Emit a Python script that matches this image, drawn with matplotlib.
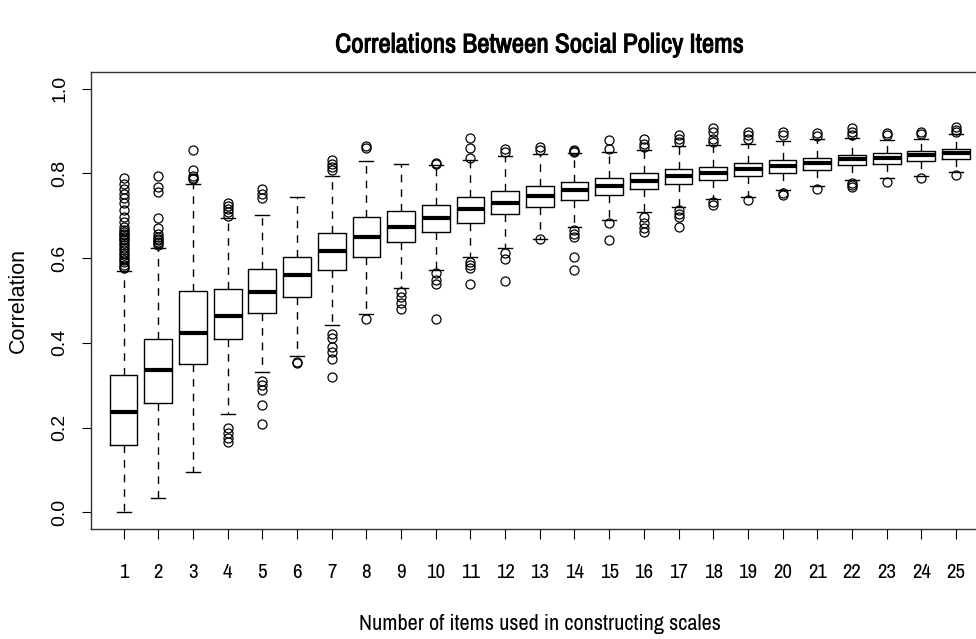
import matplotlib
matplotlib.use("Agg")
import matplotlib.pyplot as plt
from matplotlib import font_manager
import matplotlib.patheffects as pe

names = {f.name for f in font_manager.fontManager.ttflist}
narrow = "Liberation Sans"
for cand in ["Liberation Sans Narrow", "Archivo Narrow", "Roboto Condensed"]:
    if cand in names:
        narrow = cand
        break
regular = "Liberation Sans"

items = list(range(1, 26))
medians = [0.237, 0.335, 0.423, 0.463, 0.519, 0.560, 0.617, 0.650, 0.674, 0.695,
           0.716, 0.730, 0.747, 0.760, 0.770, 0.782, 0.793, 0.802, 0.811, 0.818,
           0.825, 0.833, 0.837, 0.843, 0.847]
q1 = [0.159, 0.258, 0.350, 0.409, 0.470, 0.509, 0.572, 0.603, 0.637, 0.662,
      0.684, 0.705, 0.721, 0.737, 0.749, 0.763, 0.774, 0.785, 0.793, 0.802,
      0.809, 0.819, 0.823, 0.829, 0.835]
q3 = [0.324, 0.409, 0.523, 0.526, 0.574, 0.603, 0.660, 0.696, 0.711, 0.725,
      0.744, 0.759, 0.770, 0.780, 0.790, 0.801, 0.810, 0.815, 0.825, 0.831,
      0.837, 0.844, 0.849, 0.854, 0.858]
whisker_low = [0.000, 0.035, 0.095, 0.233, 0.332, 0.370, 0.441, 0.467, 0.529, 0.572,
               0.602, 0.623, 0.646, 0.674, 0.690, 0.709, 0.721, 0.739, 0.744, 0.760,
               0.770, 0.784, 0.788, 0.793, 0.803]
whisker_high = [0.570, 0.625, 0.776, 0.694, 0.701, 0.744, 0.794, 0.829, 0.821, 0.819,
                0.831, 0.841, 0.845, 0.847, 0.850, 0.856, 0.864, 0.866, 0.870, 0.876,
                0.880, 0.883, 0.878, 0.882, 0.892]
outliers = [
    [0.576, 0.580, 0.584, 0.590, 0.595, 0.600, 0.607, 0.612, 0.619, 0.625, 0.631,
     0.636, 0.642, 0.645, 0.650, 0.654, 0.658, 0.662, 0.666, 0.674, 0.686, 0.697,
     0.713, 0.729, 0.741, 0.752, 0.764, 0.776, 0.788],
    [0.632, 0.635, 0.638, 0.642, 0.646, 0.650, 0.658, 0.670, 0.694, 0.756, 0.768, 0.795],
    [0.786, 0.790, 0.795, 0.807, 0.856],
    [0.167, 0.175, 0.187, 0.199, 0.700, 0.708, 0.715, 0.722, 0.729],
    [0.208, 0.254, 0.289, 0.301, 0.309, 0.741, 0.752, 0.764],
    [0.352, 0.356],
    [0.320, 0.362, 0.379, 0.391, 0.411, 0.421, 0.807, 0.815, 0.823, 0.831],
    [0.456, 0.860, 0.864],
    [0.479, 0.493, 0.509, 0.521],
    [0.456, 0.540, 0.548, 0.564, 0.821, 0.825],
    [0.540, 0.576, 0.583, 0.591, 0.836, 0.860, 0.883],
    [0.546, 0.597, 0.611, 0.850, 0.858],
    [0.644, 0.855, 0.862],
    [0.573, 0.603, 0.650, 0.658, 0.666, 0.850, 0.853, 0.856],
    [0.642, 0.682, 0.858, 0.878],
    [0.662, 0.670, 0.682, 0.697, 0.862, 0.870, 0.880],
    [0.674, 0.697, 0.705, 0.713, 0.874, 0.882, 0.890],
    [0.725, 0.733, 0.874, 0.882, 0.898, 0.906],
    [0.737, 0.882, 0.890, 0.898],
    [0.749, 0.754, 0.890, 0.898],
    [0.764, 0.888, 0.895],
    [0.767, 0.772, 0.777, 0.890, 0.898, 0.906],
    [0.780, 0.890, 0.895],
    [0.788, 0.893, 0.898],
    [0.796, 0.898, 0.902, 0.910],
]
y_ticks = [0.0, 0.2, 0.4, 0.6, 0.8, 1.0]
y_tick_labels = ["0.0", "0.2", "0.4", "0.6", "0.8", "1.0"]

stats = []
for i in range(len(items)):
    stats.append(dict(med=medians[i], q1=q1[i], q3=q3[i],
                      whislo=whisker_low[i], whishi=whisker_high[i],
                      fliers=outliers[i], label=str(items[i])))

fig = plt.figure(figsize=(9.76, 6.39), dpi=100)
ax = fig.add_axes([91 / 976, 109.7 / 639, 897.6 / 976, 457.6 / 639])

ax.bxp(stats, positions=items, widths=0.8, showfliers=True,
       boxprops=dict(color="black", linewidth=1.0),
       whiskerprops=dict(color="black", linewidth=1.0, linestyle=(0, (5.5, 5))),
       capprops=dict(color="black", linewidth=1.0),
       medianprops=dict(color="black", linewidth=3.0, solid_capstyle="butt"),
       flierprops=dict(marker="o", markerfacecolor="none", markeredgecolor="black",
                       markersize=6.5, markeredgewidth=0.9, linestyle="none"),
       capwidths=0.4)

ax.set_xlim(0.06, 25.94)
ax.set_ylim(-0.04, 1.04)
ax.set_xticks(items)
ax.set_xticklabels([str(v) for v in items], fontfamily=narrow, fontsize=15)
ax.set_yticks(y_ticks)
ax.set_yticklabels(y_tick_labels, fontfamily=regular, fontsize=14, rotation=90,
                   va="center")
ax.tick_params(axis="y", length=6.5, width=0.8, pad=10)
ax.tick_params(axis="x", length=7, width=0.8, pad=17)
for s in ax.spines.values():
    s.set_linewidth(1.0)
    s.set_color("#333333")

fig.text(539.5 / 976, 1 - 45 / 639, "Correlations Between Social Policy Items",
         ha="center", va="center", fontsize=19.5, fontweight="bold", fontfamily=narrow,
         path_effects=[pe.withStroke(linewidth=0.7, foreground="black")])
fig.text(539.5 / 976, 1 - 624 / 639, "Number of items used in constructing scales",
         ha="center", va="center", fontsize=16, fontfamily=narrow)
fig.text(18 / 976, 1 - 300.5 / 639, "Correlation", ha="center", va="center",
         rotation=90, fontsize=15.5, fontfamily=regular)

fig.savefig("out.png", dpi=100)
